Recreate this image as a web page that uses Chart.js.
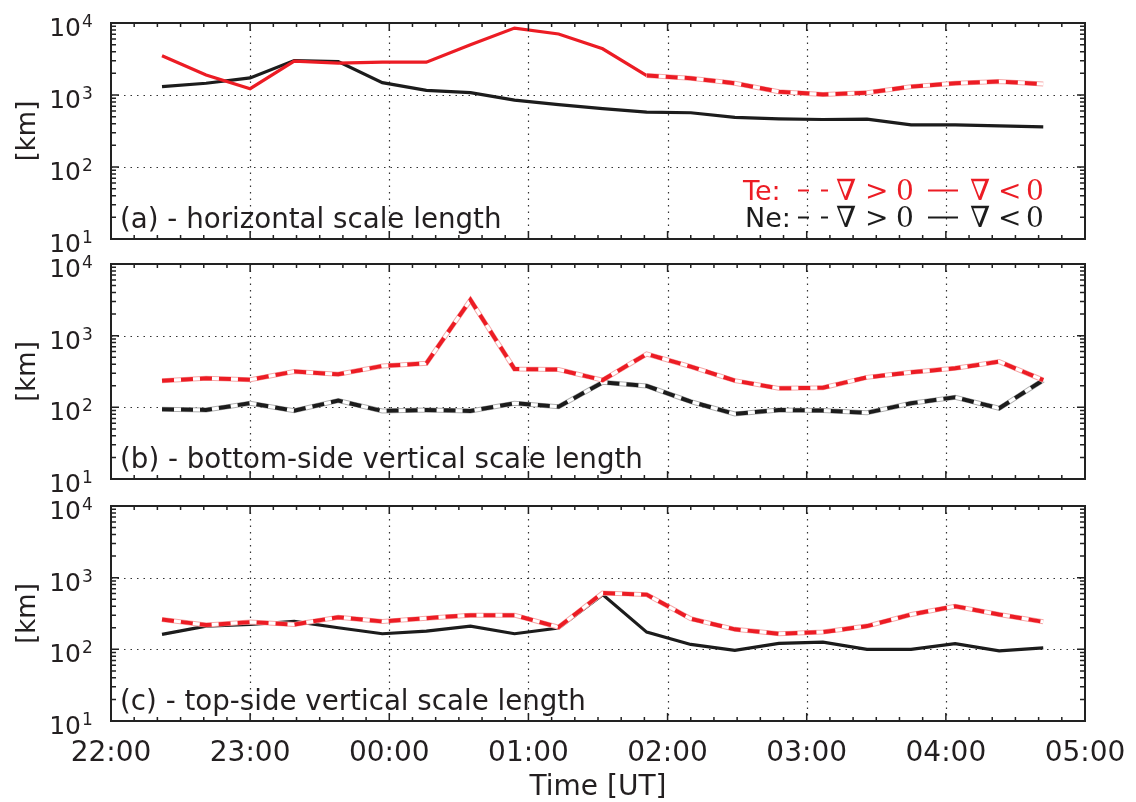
<!DOCTYPE html>
<html><head><meta charset="utf-8">
<script src="https://cdn.jsdelivr.net/npm/chart.js@4.4.0/dist/chart.umd.min.js"></script>
<style>
html,body{margin:0;padding:0;background:#fff;width:1136px;height:802px;overflow:hidden}
canvas{position:absolute;left:0;top:0}
</style></head><body>
<canvas id="ca" width="1136" height="802"></canvas>
<canvas id="cb" width="1136" height="802"></canvas>
<canvas id="cc" width="1136" height="802"></canvas>
<script>
// ---- data (minutes after 22:00 UT) ----
const timesMin = [22,41,60,79,98,117,136,155,174,193,212,231,250,269,288,307,326,345,364,383,402];
const timeTickMinutes = [0,60,120,180,240,300,360,420];
const timeTickLabels = ['22:00','23:00','00:00','01:00','02:00','03:00','04:00','05:00'];
const decadeExponents = [1,2,3,4];

// (a) horizontal scale length [km]
const teHoriz = [3500,1900,1225,2950,2770,2860,2860,4990,8500,7030,4380,1860,1710,1455,1113,1020,1078,1307,1455,1535,1422];
const teHorizDashedFrom = 11; // from this index on the gradient is > 0 (dashed)
const neHoriz = [1307,1455,1726,3015,2917,1486,1162,1078,851,733,645,579,567,488,467,457,462,385,385,373,361];

// (b) bottom-side vertical scale length [km]
const teBottom = [235,254,243,315,289,378,411,3150,343,336,240,555,370,236,184,188,262,308,350,434,240];
const neBottom = [94,92,114,90,124,89,92,89,114,102,223,199,120,81,92,90,84,114,138,97,240];

// (c) top-side vertical scale length [km]
const teTop = [261,218,240,222,281,245,272,300,300,204,612,580,267,190,165,174,211,306,400,306,242];
const neTop = [162,211,222,245,200,165,180,211,165,198,580,174,117,97,121,126,100,100,120,95,105];

const RED = '#ec1c24', RED_LIGHT = '#f6a9a9', BLACK = '#1c1c1c', BLACK_LIGHT = '#b0b0b0';
const TXT = '#231f20';
const FONT = '"DejaVu Sans", "Noto Sans", sans-serif';
const SERIF = '"DejaVu Serif", "Liberation Serif", serif';

function pts(vals, keep) {
  return timesMin.map((t, i) => ({x: t, y: (keep && !keep(i)) ? null : vals[i]}));
}
function solidSet(vals, color, order, keep) {
  return [{data: pts(vals, keep), borderColor: color, borderWidth: 3.2, order: order}];
}
function dashedSet(vals, color, light, order, keep) {
  return [
    {data: pts(vals, keep), borderColor: light, borderWidth: 5, order: order + 2},
    {data: pts(vals, keep), borderColor: '#ffffff', borderWidth: 3, order: order + 1},
    {data: pts(vals, keep), borderColor: color, borderWidth: 4, borderDash: [12, 7], order: order}
  ];
}

const panels = [
  {id: 'ca', top: 23, bottom: 239, label: '(a) - horizontal scale length', legend: true, xLabels: false,
   datasets: [].concat(
     solidSet(neHoriz, BLACK, 20),
     solidSet(teHoriz, RED, 5, i => i <= teHorizDashedFrom),
     dashedSet(teHoriz, RED, RED_LIGHT, 1, i => i >= teHorizDashedFrom))},
  {id: 'cb', top: 264, bottom: 479, label: '(b) - bottom-side vertical scale length', legend: false, xLabels: false,
   datasets: [].concat(
     dashedSet(neBottom, BLACK, BLACK_LIGHT, 20),
     dashedSet(teBottom, RED, RED_LIGHT, 1))},
  {id: 'cc', top: 506, bottom: 721, label: '(c) - top-side vertical scale length', legend: false, xLabels: true,
   datasets: [].concat(
     solidSet(neTop, BLACK, 20),
     dashedSet(teTop, RED, RED_LIGHT, 1))}
];

function framePlugin(panel) {
  return {
    id: 'frame',
    beforeDatasetsDraw(chart) {
      const ctx = chart.ctx, a = chart.chartArea, xs = chart.scales.x, ys = chart.scales.y;
      ctx.save();
      ctx.strokeStyle = '#333';
      ctx.lineWidth = 1.2;
      ctx.setLineDash([1.5, 5]);
      timeTickMinutes.forEach(m => {
        const x = Math.round(xs.getPixelForValue(m)) + 0.5;
        if (x <= a.left + 2 || x >= a.right - 2) return;
        ctx.beginPath(); ctx.moveTo(x, a.top); ctx.lineTo(x, a.bottom); ctx.stroke();
      });
      decadeExponents.forEach(e => {
        const y = Math.round(ys.getPixelForValue(Math.pow(10, e))) + 0.5;
        if (y <= a.top + 2 || y >= a.bottom - 2) return;
        ctx.beginPath(); ctx.moveTo(a.left, y); ctx.lineTo(a.right, y); ctx.stroke();
      });
      ctx.restore();
    },
    afterDatasetsDraw(chart) {
      const ctx = chart.ctx, a = chart.chartArea, xs = chart.scales.x, ys = chart.scales.y;
      ctx.save();
      ctx.setLineDash([]);
      ctx.strokeStyle = '#222';
      // ticks
      ctx.lineWidth = 1.5;
      for (let m = 0; m <= 420; m += 10) {
        const x = xs.getPixelForValue(m);
        const len = (m % 60 === 0) ? 8 : 4;
        ctx.beginPath();
        ctx.moveTo(x, a.top); ctx.lineTo(x, a.top + len);
        ctx.moveTo(x, a.bottom); ctx.lineTo(x, a.bottom - len);
        ctx.stroke();
      }
      for (let e = 1; e <= 4; e++) {
        for (let k = 1; k <= 9; k++) {
          if (e === 4 && k > 1) break;
          const y = ys.getPixelForValue(k * Math.pow(10, e));
          const len = (k === 1) ? 8 : 5;
          ctx.beginPath();
          ctx.moveTo(a.left, y); ctx.lineTo(a.left + len, y);
          ctx.moveTo(a.right, y); ctx.lineTo(a.right - len, y);
          ctx.stroke();
        }
      }
      // border
      ctx.lineWidth = 2;
      ctx.strokeRect(a.left, a.top, a.right - a.left, a.bottom - a.top);
      // y tick labels
      ctx.fillStyle = TXT;
      decadeExponents.forEach(e => {
        const y = ys.getPixelForValue(Math.pow(10, e));
        ctx.font = '25px ' + FONT;
        ctx.textAlign = 'right'; ctx.textBaseline = 'alphabetic';
        ctx.fillText('10', 81, y + 13);
        ctx.font = '17px ' + FONT;
        ctx.textAlign = 'left';
        ctx.fillText(String(e), 82, y + 4);
      });
      // y axis title
      ctx.save();
      ctx.translate(35, (a.top + a.bottom) / 2);
      ctx.rotate(-Math.PI / 2);
      ctx.font = '26px ' + FONT;
      ctx.textAlign = 'center'; ctx.textBaseline = 'alphabetic';
      ctx.fillText('[km]', 0, 0);
      ctx.restore();
      // panel label
      ctx.font = '27.7px ' + FONT;
      ctx.textAlign = 'left'; ctx.textBaseline = 'alphabetic';
      ctx.fillText(panel.label, 120, a.bottom - 11);
      // legend
      if (panel.legend) {
        const rows = [{name: 'Te:', color: RED, y: 200, nx: 743}, {name: 'Ne:', color: BLACK, y: 227, nx: 745}];
        rows.forEach(r => {
          ctx.fillStyle = r.color; ctx.strokeStyle = r.color;
          ctx.font = '27px ' + FONT;
          ctx.textAlign = 'left';
          ctx.fillText(r.name, r.nx, r.y);
          ctx.lineWidth = 2;
          ctx.beginPath();
          ctx.moveTo(798, r.y - 9.5); ctx.lineTo(809, r.y - 9.5);
          ctx.moveTo(821, r.y - 9.5); ctx.lineTo(828, r.y - 9.5);
          ctx.moveTo(928, r.y - 9.5); ctx.lineTo(958, r.y - 9.5);
          ctx.stroke();
          ctx.font = '29px ' + SERIF;
          ctx.fillText('\u2207', 836, r.y);
          ctx.font = '28px ' + SERIF;
          ctx.fillText('>', 865, r.y);
          ctx.fillText('0', 896, r.y);
          ctx.font = '29px ' + SERIF;
          ctx.fillText('\u2207', 970, r.y);
          ctx.font = '28px ' + SERIF;
          ctx.fillText('<', 998, r.y);
          ctx.fillText('0', 1026, r.y);
        });
      }
      // x tick labels + title
      if (panel.xLabels) {
        ctx.fillStyle = TXT;
        ctx.font = '28px ' + FONT;
        ctx.textAlign = 'center'; ctx.textBaseline = 'alphabetic';
        timeTickMinutes.forEach((m, i) => {
          ctx.fillText(timeTickLabels[i], xs.getPixelForValue(m), 761);
        });
        ctx.font = '28px ' + FONT;
        ctx.fillText('Time [UT]', (a.left + a.right) / 2, 795);
      }
      ctx.restore();
    }
  };
}

panels.forEach(p => {
  new Chart(document.getElementById(p.id), {
    type: 'line',
    data: {datasets: p.datasets.map(d => Object.assign({pointRadius: 0, tension: 0, fill: false, spanGaps: false}, d))},
    options: {
      responsive: false, animation: false, devicePixelRatio: 1,
      layout: {padding: {left: 111, right: 1136 - 1085, top: p.top, bottom: 802 - p.bottom}},
      plugins: {legend: {display: false}, tooltip: {enabled: false}},
      events: [],
      scales: {
        x: {type: 'linear', min: 0, max: 420, display: false},
        y: {type: 'logarithmic', min: 10, max: 10000, display: false}
      }
    },
    plugins: [framePlugin(p)]
  });
});
</script>
</body></html>
